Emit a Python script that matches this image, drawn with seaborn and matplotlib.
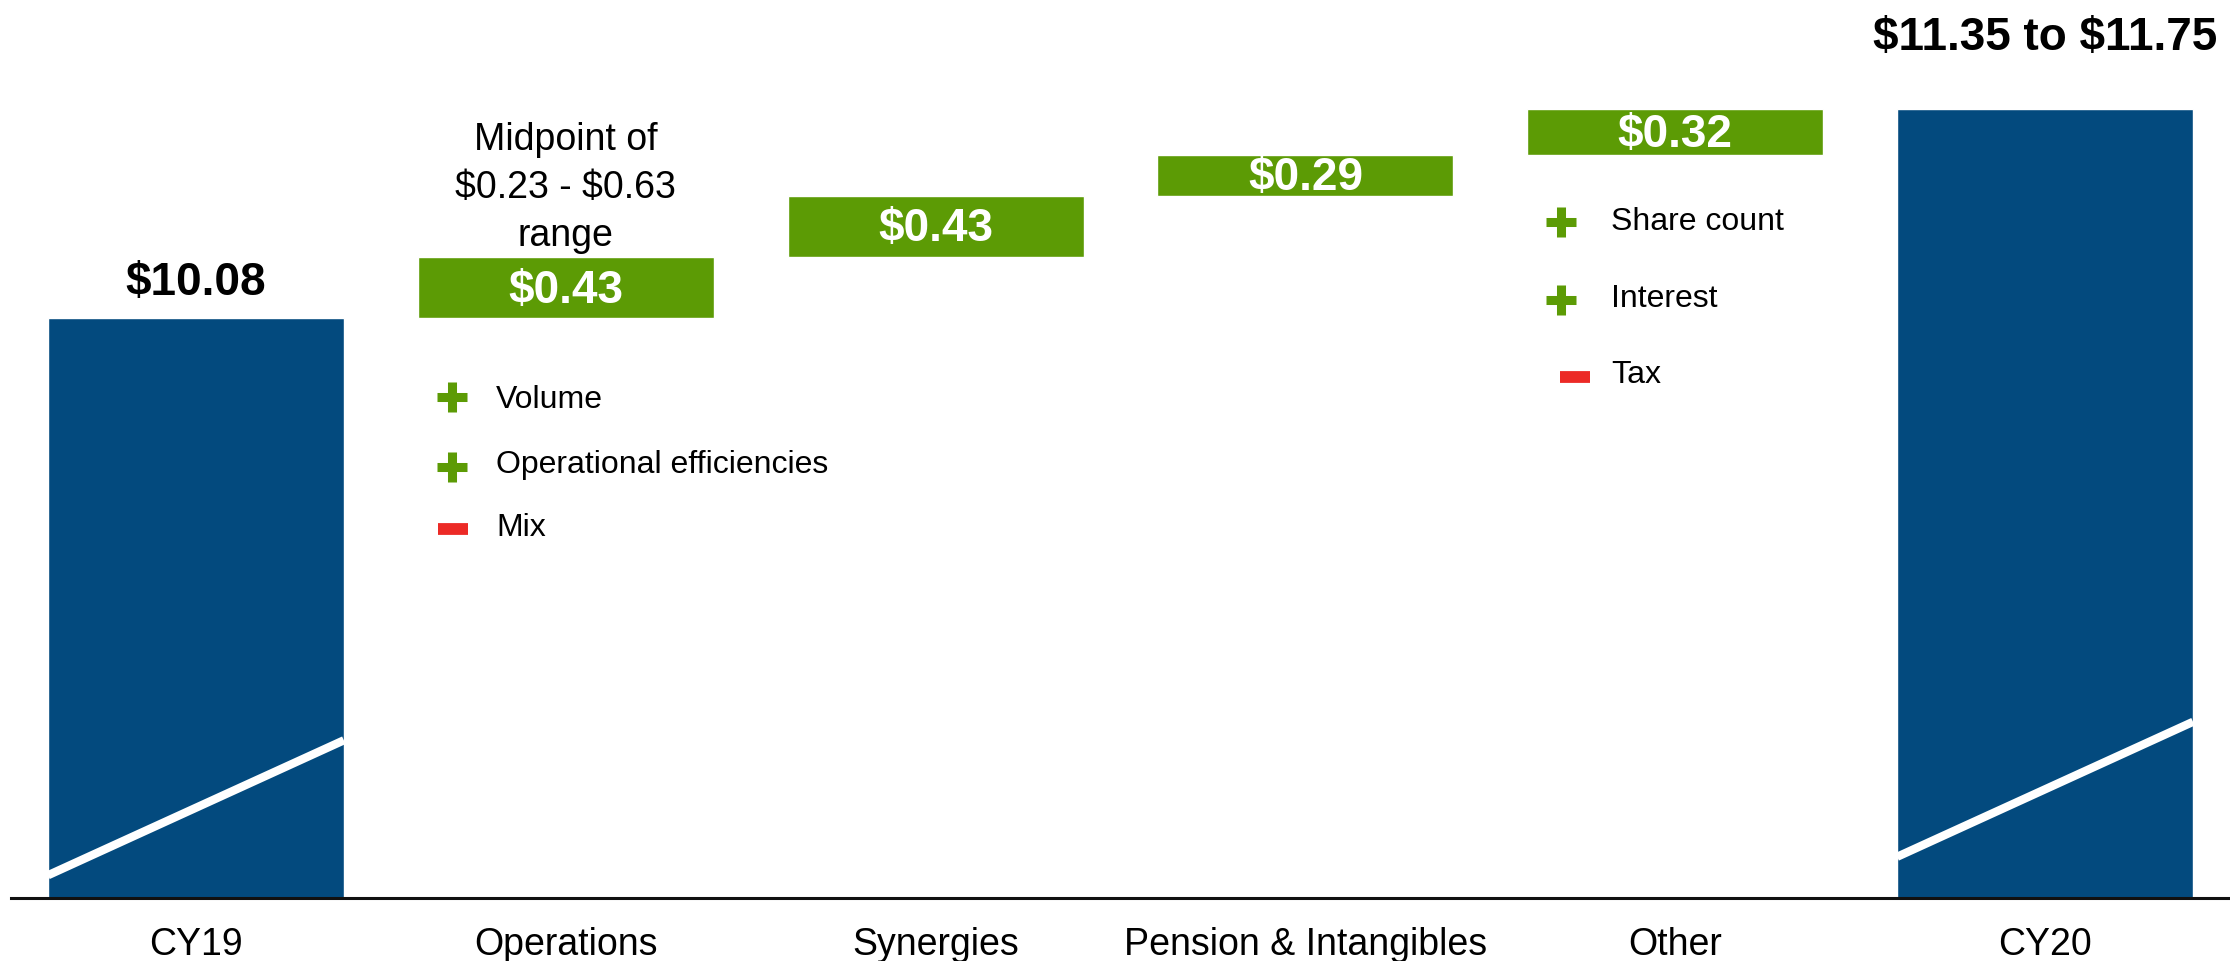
import matplotlib
matplotlib.use("Agg")
import matplotlib.pyplot as plt
import seaborn as sns
import numpy as np

sns.set_theme(style="white")
plt.rcParams['font.family'] = ['Liberation Sans', 'DejaVu Sans']
plt.rcParams['text.parse_math'] = False

# data
categorias = ["CY19", "Operations", "Synergies", "Pension & Intangibles", "Other", "CY20"]
cy19 = 10.08
pasos = [0.43, 0.43, 0.29, 0.32]
cy20 = cy19 + sum(pasos)
etiquetas_pasos = ["$0.43", "$0.43", "$0.29", "$0.32"]
etiqueta_cy19 = "$10.08"
etiqueta_cy20 = "$11.35 to $11.75"
nota_ops = "Midpoint of\n$0.23 - $0.63\nrange"
drivers_ops = ["Volume", "Operational efficiencies", "Mix"]
signos_ops = ["+", "+", "-"]
drivers_other = ["Share count", "Interest", "Tax"]
signos_other = ["+", "+", "-"]

azul = "#034A7E"
verde = "#5C9B05"
rojo = "#EC2A26"

bases = list(np.cumsum([cy19] + pasos[:-1]))
cats_pasos = categorias[1:5]

fig = plt.figure(figsize=(22.3, 9.61), dpi=100)
ax = fig.add_axes([11 / 2230, 63 / 961, 1 - 11 / 2230, 898 / 961])

sns.barplot(x=[categorias[0], categorias[-1]], y=[cy19, cy20], order=categorias,
            color=azul, saturation=1, width=0.8, errorbar=None, ax=ax)
sns.barplot(x=cats_pasos, y=pasos, order=categorias, bottom=bases,
            color=verde, saturation=1, width=0.8, errorbar=None, ax=ax)

ymin = 6.0
ax.set_ylim(ymin, 12.32)
ax.set_xlim(-0.5, 5.5)

# axis break marks (white diagonals inside total bars)
for i, y0 in [(0, 6.16), (5, 6.29)]:
    ax.plot([i - 0.4, i + 0.4], [y0, y0 + 0.95], color="white", lw=6, solid_capstyle="butt", zorder=3)

# labels
ax.annotate(etiqueta_cy19, (0, cy19), xytext=(0, 17), textcoords="offset points",
            ha="center", va="baseline", fontsize=33, fontweight="bold", color="black")
ax.annotate(etiqueta_cy20, (5, cy20), xytext=(0, 43), textcoords="offset points",
            ha="center", va="baseline", fontsize=33, fontweight="bold", color="black")
for i, (b, h, t) in enumerate(zip(bases, pasos, etiquetas_pasos)):
    ax.annotate(t, (i + 1, b + h / 2), xytext=(0, -2), textcoords="offset points",
                ha="center", va="center", fontsize=33, fontweight="bold",
                color="white", zorder=4)
ax.annotate(nota_ops, (1, bases[0] + pasos[0]), xytext=(0, 50), textcoords="offset points",
            ha="center", va="center", fontsize=27, linespacing=1.43, color="black")

# driver lists
def drivers(xm, xt, ys, ym, textos, signos, xminus):
    for y, yk, t, s in zip(ys, ym, textos, signos):
        ax.text(xt, y, t, ha="left", va="center", fontsize=23, color="black")
        if s == "+":
            ax.plot(xm, yk, marker="+", ms=22, mew=6.5, color=verde, zorder=4)
        else:
            ax.plot(xminus, yk, marker="_", ms=21, mew=8.5, color=rojo, zorder=4)

drivers(0.692, 0.812, [9.505, 9.047, 8.604], [9.526, 9.033, 8.597],
        drivers_ops, signos_ops, 0.695)
drivers(3.692, 3.827, [10.757, 10.215, 9.680], [10.757, 10.208, 9.667],
        drivers_other, signos_other, 3.730)

sns.despine(ax=ax, left=True)
ax.spines["bottom"].set_linewidth(2.2)
ax.spines["bottom"].set_color("#111111")
ax.set_yticks([])
ax.set_xlabel("")
ax.set_ylabel("")
ax.tick_params(axis="x", length=0, pad=21, labelsize=27, labelcolor="black")

fig.savefig("out.png", dpi=100)
